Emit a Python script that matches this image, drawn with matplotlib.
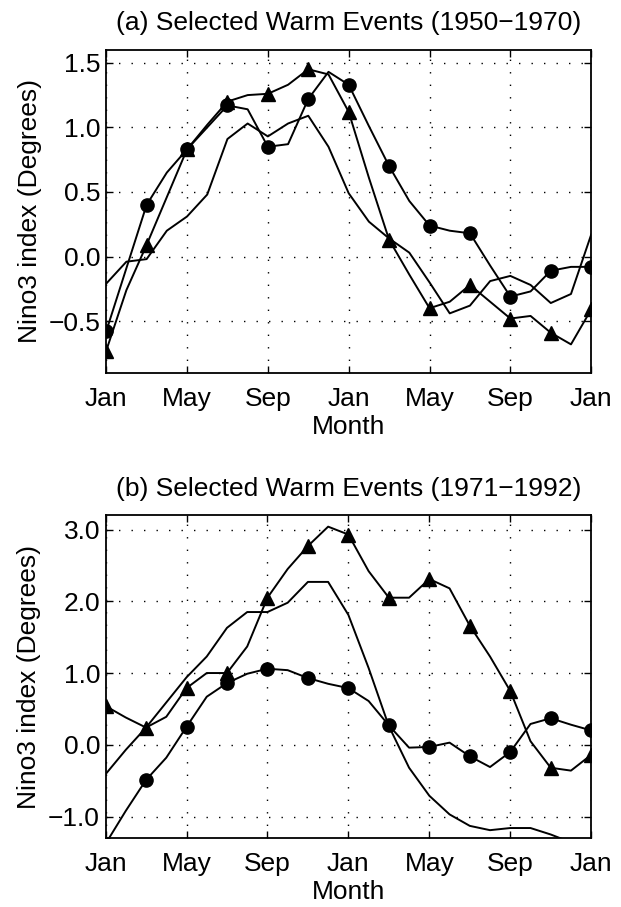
import matplotlib
matplotlib.use("Agg")
import matplotlib.pyplot as plt
import numpy as np

plt.rcParams['font.family'] = ['Liberation Sans', 'DejaVu Sans']

# months from Jan (0) to Jan two years later (24)
months = np.arange(25)
tick_pos = [0, 4, 8, 12, 16, 20, 24]
tick_labels = ["Jan", "May", "Sep", "Jan", "May", "Sep", "Jan"]

# (a) 1950-1970
a_circle = [-0.58, -0.09, 0.40, 0.65, 0.83, 1.00, 1.17, 1.14, 0.85, 0.87, 1.22, 1.43, 1.33,
            1.01, 0.70, 0.43, 0.24, 0.20, 0.18, -0.07, -0.31, -0.27, -0.11, -0.08, -0.08]
a_triangle = [-0.73, -0.26, 0.09, 0.46, 0.83, 1.02, 1.20, 1.25, 1.26, 1.33, 1.45, 1.41, 1.12,
              0.61, 0.13, -0.14, -0.40, -0.35, -0.22, -0.35, -0.48, -0.46, -0.59, -0.68, -0.41]
a_plain = [-0.21, -0.04, -0.02, 0.20, 0.31, 0.48, 0.91, 1.03, 0.93, 1.03, 1.09, 0.85, 0.49,
           0.27, 0.14, 0.03, -0.20, -0.44, -0.38, -0.19, -0.15, -0.22, -0.36, -0.29, 0.17]

# (b) 1971-1992
b_circle = [-1.38, -0.92, -0.49, -0.18, 0.25, 0.67, 0.86, 0.99, 1.06, 1.04, 0.93, 0.85, 0.79,
            0.61, 0.27, -0.04, -0.03, 0.03, -0.16, -0.31, -0.10, 0.29, 0.37, 0.28, 0.20]
b_triangle = [0.54, 0.38, 0.24, 0.39, 0.79, 1.00, 1.00, 1.37, 2.05, 2.45, 2.77, 3.04, 2.93,
              2.42, 2.05, 2.05, 2.31, 2.18, 1.66, 1.23, 0.75, 0.05, -0.32, -0.36, -0.14]
b_plain = [-0.41, -0.07, 0.24, 0.59, 0.94, 1.23, 1.63, 1.85, 1.85, 1.98, 2.27, 2.27, 1.81,
           1.07, 0.26, -0.32, -0.71, -0.97, -1.13, -1.19, -1.16, -1.16, -1.25, -1.36, -1.42]

fig = plt.figure(figsize=(6.21, 9.07), dpi=100)
ax1 = fig.add_axes([0.171, 0.589, 0.781, 0.356])
ax2 = fig.add_axes([0.170, 0.076, 0.782, 0.356])

panels = [
    (ax1, a_circle, a_triangle, a_plain, "(a) Selected Warm Events (1950\u22121970)",
     (-0.9, 1.6), [-0.5, 0.0, 0.5, 1.0, 1.5]),
    (ax2, b_circle, b_triangle, b_plain, "(b) Selected Warm Events (1971\u22121992)",
     (-1.3, 3.2), [-1.0, 0.0, 1.0, 2.0, 3.0]),
]

fs = 19
for ax, circ, tri, plain, title, ylim, yticks in panels:
    ax.plot(months, plain, color="black", lw=1.4)
    ax.plot(months, circ, color="black", lw=1.4, marker="o", markersize=9.5, markevery=2)
    ax.plot(months, tri, color="black", lw=1.4, marker="^", markersize=10.5, markevery=2)

    ax.set_xlim(0, 24)
    ax.set_ylim(*ylim)
    ax.set_xticks(tick_pos)
    ax.set_xticklabels(tick_labels)
    ax.set_yticks(yticks)
    ax.set_yticklabels([f"{v:.1f}".replace("-", "\u2212") for v in yticks])
    ax.grid(True, color="black", linestyle=(0, (1, 8)), lw=1.0)
    ax.tick_params(direction="in", length=5, width=1, top=True, right=True, labelsize=fs)
    ax.tick_params(axis="x", pad=10)
    ax.tick_params(axis="y", pad=4)
    for s in ax.spines.values():
        s.set_linewidth(1.3)
    ax.set_xlabel("Month", fontsize=fs, labelpad=3)
    ax.set_ylabel("Nino3 index (Degrees)", fontsize=fs, labelpad=5)
    ax.set_title(title, fontsize=fs, pad=14)

fig.savefig("out.png", dpi=100)
